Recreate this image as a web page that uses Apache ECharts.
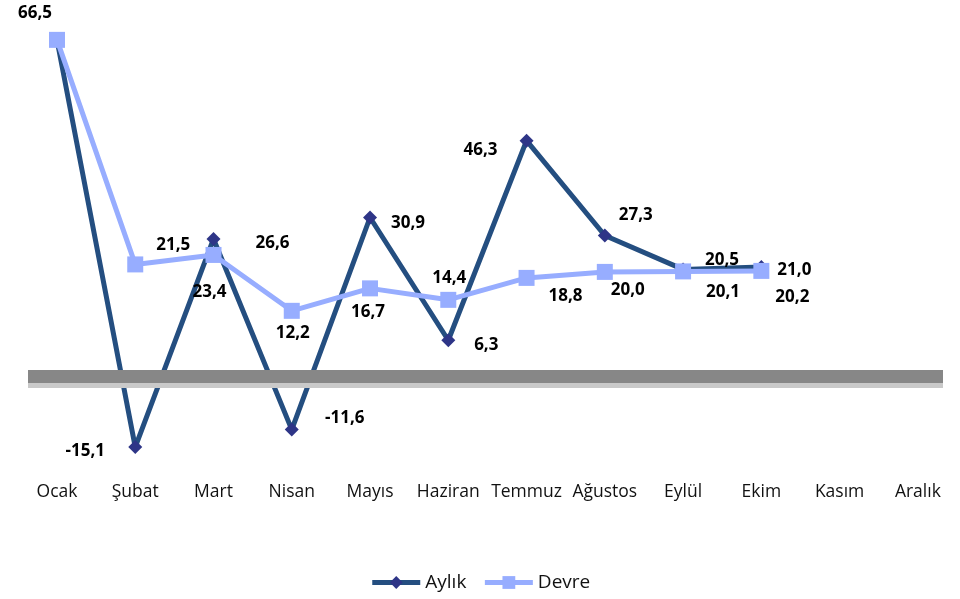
<!DOCTYPE html>
<html>
<head>
<meta charset="utf-8">
<script src="https://cdn.jsdelivr.net/npm/echarts@6/dist/echarts.min.js"></script>
<style>html,body{margin:0;padding:0;background:#fff}#c{width:960px;height:599px}</style>
</head>
<body>
<div id="c"></div>
<script>
const months = ['Ocak','Şubat','Mart','Nisan','Mayıs','Haziran','Temmuz','Ağustos','Eylül','Ekim','Kasım','Aralık'];
const aylik = [66.5, -15.1, 26.6, -11.6, 30.9, 6.3, 46.3, 27.3, 20.5, 21.0, null, null];
const devre = [66.5, 21.5, 23.4, 12.2, 16.7, 14.4, 18.8, 20.0, 20.1, 20.2, null, null];

// label offsets (styling only)
const aylikOff = [[-22,-27],[-50,4],[59,4],[53,-11],[38,6],[38,5],[-46,9],[31,-20],[39,-9],[33,3]];
const devreOff = [null,[38,-19],[-4,37],[1,22],[-2,24],[1,-22],[39,18],[23,18],[40,21],[31,26]];

const fmt = v => v.toFixed(1).replace('.', ',');
const FONT = 'Open Sans';

function build(vals, offs) {
  return vals.map((v, i) => {
    if (v === null) return null;
    const o = offs[i];
    return {
      value: v,
      label: o ? { show: true, position: 'inside', offset: o, formatter: fmt(v) } : { show: false }
    };
  });
}

const chart = echarts.init(document.getElementById('c'));
chart.setOption({
  animation: false,
  textStyle: { fontFamily: FONT },
  grid: [
    { left: 17.85, right: 3, top: 22.4, bottom: 127.5 },
    { left: 28, right: 17, top: 22.4, bottom: 127.5 }
  ],
  xAxis: [
    { type: 'category', gridIndex: 0, data: months, boundaryGap: true,
      axisLine: { show: false }, axisTick: { show: false },
      axisLabel: { color: '#111', fontSize: 17.5, fontFamily: FONT, margin: 12, interval: 0 } },
    { type: 'category', gridIndex: 1, data: months, show: false }
  ],
  yAxis: [
    { type: 'value', gridIndex: 0, min: -20, max: 70, show: false },
    { type: 'value', gridIndex: 1, min: -20, max: 70, show: false }
  ],
  legend: {
    bottom: 2, left: 'center', itemWidth: 48, itemHeight: 16, itemGap: 16,
    textStyle: { fontSize: 19, color: '#111', fontFamily: FONT },
    lineStyle: { width: 5 },
    data: ['Aylık', 'Devre']
  },
  series: [
    {
      name: 'zero', type: 'line', xAxisIndex: 1, yAxisIndex: 1, data: [], silent: true, z: 1,
      markLine: {
        silent: true, symbol: 'none', animation: false,
        label: { show: false },
        data: [
          { yAxis: -0.95, lineStyle: { color: '#878787', width: 13, type: 'solid' } },
          { yAxis: -2.75, lineStyle: { color: '#c9c9c9', width: 5, type: 'solid' } }
        ]
      }
    },
    {
      name: 'Aylık', type: 'line', z: 3,
      data: build(aylik, aylikOff),
      lineStyle: { color: '#244E80', width: 5 },
      itemStyle: { color: '#2E3587' },
      symbol: 'diamond', symbolSize: 14, showAllSymbol: true,
      label: { color: '#000', fontWeight: 'bold', fontSize: 17, fontFamily: FONT, align: 'center', verticalAlign: 'middle' }
    },
    {
      name: 'Devre', type: 'line', z: 4,
      data: build(devre, devreOff),
      lineStyle: { color: '#97ADFF', width: 5 },
      itemStyle: { color: '#97ADFF' },
      symbol: 'rect', symbolSize: 16, showAllSymbol: true,
      label: { color: '#000', fontWeight: 'bold', fontSize: 17, fontFamily: FONT, align: 'center', verticalAlign: 'middle' }
    }
  ]
});
</script>
</body>
</html>
